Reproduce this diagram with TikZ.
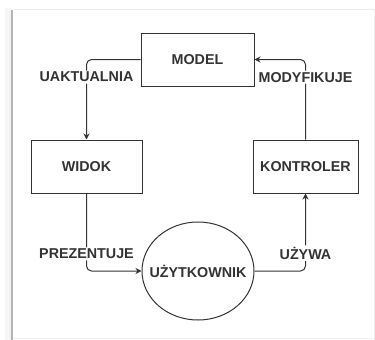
\documentclass[tikz,border=0pt]{standalone}
\usepackage{fontspec}
\setmainfont{Liberation Sans}
\usepackage{xcolor}
\usetikzlibrary{shapes.geometric, arrows.meta, positioning, calc}

\definecolor{ink}{HTML}{333333}
\definecolor{frameline}{HTML}{B4B4B4}

\tikzset{
  block/.style={draw=ink, line width=1pt, minimum height=53pt, inner sep=0pt,
    font=\fontsize{14.3}{16}\selectfont\bfseries, text=ink},
  actor/.style={ellipse, draw=ink, line width=1pt, minimum width=112pt,
    minimum height=98pt, inner xsep=-14pt, inner ysep=0pt,
    font=\fontsize{14.3}{16}\selectfont\bfseries, text=ink},
  flow/.style={draw=ink, line width=1pt, rounded corners=5pt,
    -{Stealth[length=6pt,width=6pt]}},
  tag/.style={fill=white, inner sep=1.5pt,
    font=\fontsize{14.3}{16}\selectfont\bfseries, text=ink}
}

\begin{document}
\begin{tikzpicture}[x=1pt, y=-1pt]
  % page and frame shadow
  \useasboundingbox (0,0) rectangle (375,340);
  \fill[white] (0,0) rectangle (375,340);
  \fill[gray!6] (5,8) rectangle (12,340);
  \fill[gray!10] (9,9) rectangle (12,340);
  \draw[frameline, line width=1.6pt] (12.2,10) -- (12.2,340);
  \draw[gray!15, line width=1pt] (13,9.5) -- (375,9.5);
  \draw[gray!10, line width=0.8pt] (13,338.5) -- (375,338.5);
  \draw[gray!12, line width=0.8pt] (374.5,10) -- (374.5,340);

  % blocks
  \node[block, minimum width=113pt] (model) at (197.5,59.5) {MODEL};
  \node[block, minimum width=111pt] (widok) at (86.5,166.5) {WIDOK};
  \node[block, minimum width=105pt] (kontroler) at (305.5,166.5) {KONTROLER};
  \node[actor] (user) at (198,271) {UŻYTKOWNIK};

  % connectors
  \draw[flow] (model.west) -| (widok.north)
    node[tag, pos=0.61] (uakt) {UAKTUALNIA};
  \draw[flow] (widok.south) |- (user.west)
    node[tag, pos=0.39] (prez) {PREZENTUJE};
  \draw[flow] (user.east) -| (kontroler.south)
    node[tag, pos=0.615] (uzyw) {UŻYWA};
  \draw[flow] (kontroler.north) |- (model.east)
    node[tag, pos=0.39] (mody) {MODYFIKUJE};
\end{tikzpicture}
\end{document}
